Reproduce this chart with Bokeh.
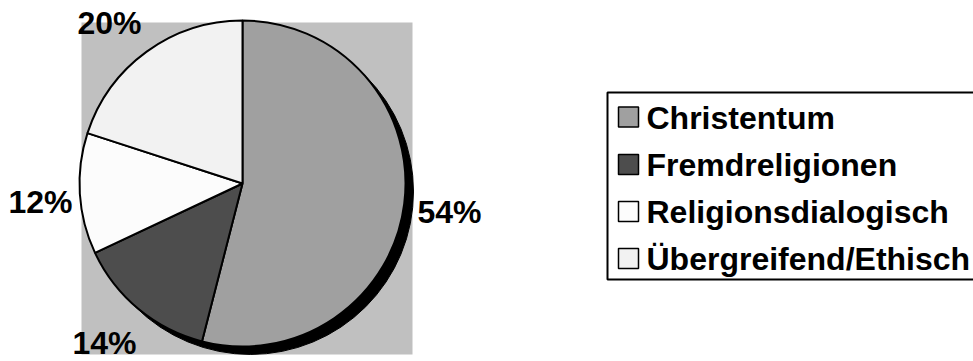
import math
from bokeh.plotting import figure
from bokeh.models import Range1d, ColumnDataSource
from bokeh.core.properties import value
from bokeh.embed import file_html
from bokeh.resources import INLINE

# ---- data ----
categories = ["Christentum", "Fremdreligionen", "Religionsdialogisch", "Übergreifend/Ethisch"]
shares = [54, 14, 12, 20]
colors = ["#a0a0a0", "#4d4d4d", "#fcfcfc", "#f2f2f2"]

W, H = 973, 361
def Y(px):
    return H - px

TXT_SHIFT = 10  # renderer places alphabetic baseline ~10px lower

p = figure(width=W, height=H, x_range=Range1d(0, W), y_range=Range1d(0, H),
           x_axis_type=None, y_axis_type=None, toolbar_location=None,
           output_backend="svg", min_border=0)
p.grid.visible = False
p.outline_line_color = None
p.background_fill_color = "white"
p.border_fill_color = "white"

# plot-area background
p.quad(left=81, right=412, top=Y(22), bottom=Y(354), fill_color="#c0c0c0", line_color=None)

cx, cy, r = 242, Y(183), 163
# shadow
p.wedge(x=cx + 8, y=cy - 8, radius=r, start_angle=0, end_angle=2 * math.pi,
        fill_color="black", line_color="black")

total = sum(shares)
starts, ends = [], []
cum = 0
for v in shares:
    starts.append(math.pi / 2 - 2 * math.pi * cum / total)
    cum += v
    ends.append(math.pi / 2 - 2 * math.pi * cum / total)

src = ColumnDataSource(dict(start=starts, end=ends, color=colors, cat=categories))
p.wedge(x=cx, y=cy, radius=r, start_angle="start", end_angle="end", direction="clock",
        fill_color="color", line_color="black", line_width=2, source=src)

# percentage labels (positions in px)
label_pos = [(417, 221), (72, 352), (8, 211), (77, 32)]
lbl = ColumnDataSource(dict(
    x=[pt[0] for pt in label_pos],
    y=[Y(pt[1] - TXT_SHIFT) for pt in label_pos],
    t=[f"{v}%" for v in shares]))
p.text(x="x", y="y", text="t", source=lbl, text_font=value("Liberation Sans"),
       text_font_style="bold", text_font_size="32px", text_color="black",
       text_align="left", text_baseline="alphabetic")

# legend
p.quad(left=607, right=985, top=Y(92), bottom=Y(279), fill_color="white",
       line_color="black", line_width=2)
row_c = [116.5, 164, 211, 258]
sw = ColumnDataSource(dict(
    x=[628] * 4, y=[Y(c) for c in row_c], color=colors))
p.rect(x="x", y="y", width=20, height=20, fill_color="color", line_color="black",
       line_width=1.5, source=sw)
lt = ColumnDataSource(dict(
    x=[646] * 4, y=[Y(c + 10.5 - TXT_SHIFT) for c in row_c], t=categories))
p.text(x="x", y="y", text="t", source=lt, text_font=value("Liberation Sans"),
       text_font_style="bold", text_font_size="32px", text_color="black",
       text_align="left", text_baseline="alphabetic")

open("out.html", "w").write(file_html(p, INLINE))
